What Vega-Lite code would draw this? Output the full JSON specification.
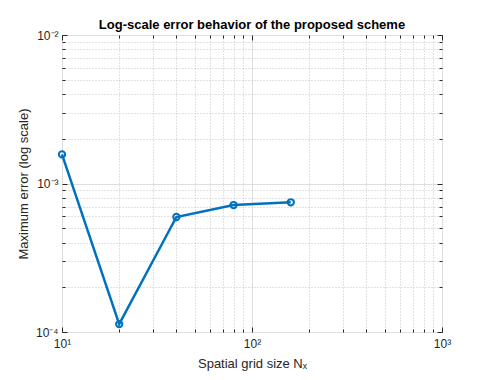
{
  "$schema": "https://vega.github.io/schema/vega-lite/v6.json",
  "width": 380,
  "height": 297,
  "autosize": {"type": "none"},
  "padding": {"left": 62, "top": 35, "right": 38, "bottom": 48},
  "background": "white",
  "config": {
    "view": {"stroke": "#262626", "strokeWidth": 1},
    "font": "Liberation Sans",
    "axis": {
      "labelFont": "Liberation Sans",
      "titleFont": "Liberation Sans",
      "labelFontSize": 12,
      "titleFontSize": 13,
      "titleFontWeight": "normal",
      "labelColor": "#262626",
      "titleColor": "#262626",
      "tickColor": "#262626",
      "domain": false
    }
  },
  "title": {
    "text": "Log-scale error behavior of the proposed scheme",
    "fontSize": 13,
    "fontWeight": "bold",
    "font": "Liberation Sans",
    "color": "#000000",
    "offset": -3
  },
  "data": {
    "values": [
      {"Nx": 10, "err": 0.00157},
      {"Nx": 20, "err": 0.000113},
      {"Nx": 40, "err": 0.000595},
      {"Nx": 80, "err": 0.000716},
      {"Nx": 160, "err": 0.000747}
    ]
  },
  "resolve": {"axis": {"x": "independent", "y": "independent"}},
  "layer": [
    {
      "mark": {"type": "line", "color": "#0072BD", "strokeWidth": 2.5, "point": {"filled": false, "size": 40, "strokeWidth": 2, "color": "#0072BD"}},
      "encoding": {
        "x": {
          "field": "Nx", "type": "quantitative",
          "scale": {"type": "log", "domain": [10, 1000], "nice": false},
          "axis": {
            "orient": "bottom",
            "title": "Spatial grid size Nₓ",
            "titlePadding": 8,
            "values": [10,20,30,40,50,60,70,80,90,100,200,300,400,500,600,700,800,900,1000],
            "labelExpr": "datum.value == 10 ? '10¹' : datum.value == 100 ? '10²' : datum.value == 1000 ? '10³' : ''",
            "labelPadding": 11,
            "grid": true,
            "gridColor": {"condition": {"test": "datum.value == 10 || datum.value == 100 || datum.value == 1000", "value": "#dedede"}, "value": "#c4c4c4"},
            "gridDash": {"condition": {"test": "datum.value == 10 || datum.value == 100 || datum.value == 1000", "value": []}, "value": [1, 2]},
            "tickSize": {"condition": {"test": "datum.value == 10 || datum.value == 100 || datum.value == 1000", "value": -5}, "value": -3},
            "labelFlush": false
          }
        },
        "y": {
          "field": "err", "type": "quantitative",
          "scale": {"type": "log", "domain": [0.0001, 0.01], "nice": false},
          "axis": {
            "orient": "left",
            "title": "Maximum error (log scale)",
            "titlePadding": 5,
            "values": [0.0001,0.0002,0.0003,0.0004,0.0005,0.0006,0.0007,0.0008,0.0009,0.001,0.002,0.003,0.004,0.005,0.006,0.007,0.008,0.009,0.01],
            "labelExpr": "datum.value == 0.01 ? '10⁻²' : datum.value == 0.001 ? '10⁻³' : datum.value == 0.0001 ? '10⁻⁴' : ''",
            "labelPadding": 9,
            "grid": true,
            "gridColor": {"condition": {"test": "datum.value == 0.01 || datum.value == 0.001 || datum.value == 0.0001", "value": "#dedede"}, "value": "#c4c4c4"},
            "gridDash": {"condition": {"test": "datum.value == 0.01 || datum.value == 0.001 || datum.value == 0.0001", "value": []}, "value": [1, 2]},
            "tickSize": {"condition": {"test": "datum.value == 0.01 || datum.value == 0.001 || datum.value == 0.0001", "value": -5}, "value": -3},
            "labelFlush": false
          }
        }
      }
    },
    {
      "mark": {"type": "point", "opacity": 0},
      "encoding": {
        "x": {
          "field": "Nx", "type": "quantitative",
          "scale": {"type": "log", "domain": [10, 1000], "nice": false},
          "axis": {
            "orient": "top", "title": null, "labels": false, "grid": false,
            "values": [10,20,30,40,50,60,70,80,90,100,200,300,400,500,600,700,800,900,1000],
            "tickSize": {"condition": {"test": "datum.value == 10 || datum.value == 100 || datum.value == 1000", "value": -5}, "value": -3}
          }
        },
        "y": {
          "field": "err", "type": "quantitative",
          "scale": {"type": "log", "domain": [0.0001, 0.01], "nice": false},
          "axis": {
            "orient": "right", "title": null, "labels": false, "grid": false,
            "values": [0.0001,0.0002,0.0003,0.0004,0.0005,0.0006,0.0007,0.0008,0.0009,0.001,0.002,0.003,0.004,0.005,0.006,0.007,0.008,0.009,0.01],
            "tickSize": {"condition": {"test": "datum.value == 0.01 || datum.value == 0.001 || datum.value == 0.0001", "value": -5}, "value": -3}
          }
        }
      }
    }
  ]
}
